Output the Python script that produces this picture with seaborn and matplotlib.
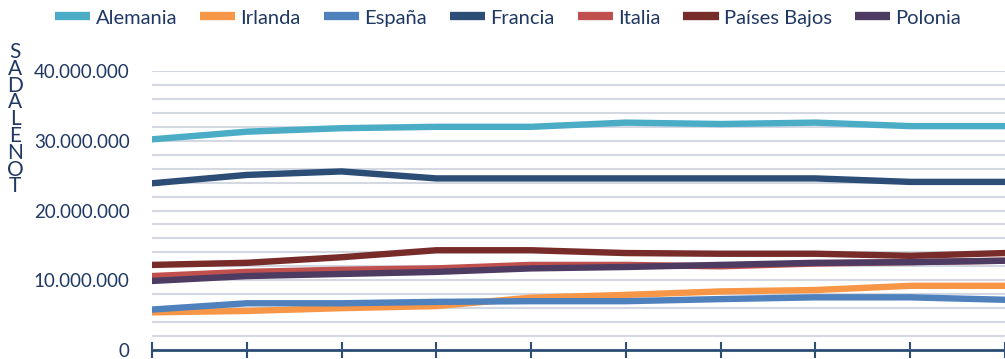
import pandas as pd
import numpy as np
import matplotlib.pyplot as plt
import seaborn as sns
from matplotlib.ticker import MultipleLocator, FuncFormatter

# === datos (toneladas) ===
periodos = list(range(10))
paises = ["Alemania", "Irlanda", "España", "Francia", "Italia", "Países Bajos", "Polonia"]
alemania = [30.2, 31.3, 31.8, 32.0, 32.0, 32.6, 32.4, 32.6, 32.1, 32.1]
irlanda = [5.4, 5.6, 6.0, 6.3, 7.5, 7.9, 8.4, 8.6, 9.2, 9.2]
espana = [5.8, 6.7, 6.7, 6.9, 7.0, 7.0, 7.3, 7.55, 7.55, 7.2]
francia = [23.9, 25.1, 25.6, 24.6, 24.6, 24.6, 24.6, 24.6, 24.1, 24.1]
italia = [10.6, 11.2, 11.5, 11.7, 12.2, 12.2, 12.0, 12.4, 12.6, 12.8]
paises_bajos = [12.2, 12.5, 13.3, 14.3, 14.3, 13.9, 13.8, 13.8, 13.5, 13.9]
polonia = [9.9, 10.6, 10.9, 11.2, 11.7, 11.9, 12.2, 12.5, 12.6, 12.8]
colores = ["#4BACC6", "#F79646", "#4F81BD", "#2C4D75", "#C0504D", "#772C2A", "#4D3B62"]

series = [alemania, irlanda, espana, francia, italia, paises_bajos, polonia]
df = pd.concat([
    pd.DataFrame({"periodo": periodos, "toneladas": np.array(v) * 1e6, "pais": p})
    for p, v in zip(paises, series)
])

texto = "#1F3864"
sns.set_theme(style="white")
plt.rcParams["font.family"] = ["Lato", "DejaVu Sans"]

fig = plt.figure(figsize=(10.05, 3.59), dpi=100)
ax = fig.add_axes([152 / 1005, 1 - 350 / 359, 1 - 152 / 1005, (350 - 71) / 359])

sns.lineplot(data=df, x="periodo", y="toneladas", hue="pais", hue_order=paises,
             palette=colores, linewidth=4.6, ax=ax, legend=False, zorder=3)

ax.set_xlim(0, (1005 - 152) / 95.3)
ax.set_ylim(0, 40e6)
ax.yaxis.set_major_locator(MultipleLocator(10e6))
ax.yaxis.set_minor_locator(MultipleLocator(2e6))
ax.yaxis.set_major_formatter(FuncFormatter(lambda v, _: f"{v:,.0f}".replace(",", ".")))
ax.grid(True, which="both", axis="y", color="#D3D8E3", linewidth=1.5, zorder=0)
ax.set_xticks(periodos)
ax.set_xticklabels([])
ax.tick_params(axis="x", bottom=True, direction="inout", length=11, width=1.5, color="#2C4D75")
ax.tick_params(axis="y", which="both", length=0, labelsize=13.5, labelcolor=texto, pad=16)
ax.set_xlabel("")
ax.set_ylabel("")
for s in ["top", "right", "left"]:
    ax.spines[s].set_visible(False)
ax.spines["bottom"].set_color("#2C4D75")
ax.spines["bottom"].set_linewidth(2)
ax.spines["bottom"].set_zorder(4)

# leyenda
handles = [plt.Line2D([], [], color=c, linewidth=6, solid_capstyle="butt") for c in colores]
fig.legend(handles, paises, loc="center", bbox_to_anchor=(0.5055, 1 - 18 / 359), ncol=7,
           frameon=False, fontsize=14.5, labelcolor=texto, handlelength=1.75,
           handletextpad=0.25, columnspacing=1.15, borderpad=0, borderaxespad=0)

# título del eje vertical, letras apiladas
fig.text(15 / 1005, 1 - 42 / 359, "S\nA\nD\nA\nL\nE\nN\nO\nT", ha="center", va="top",
         fontsize=15, color=texto, linespacing=0.8)

fig.savefig("out.png", dpi=100)
